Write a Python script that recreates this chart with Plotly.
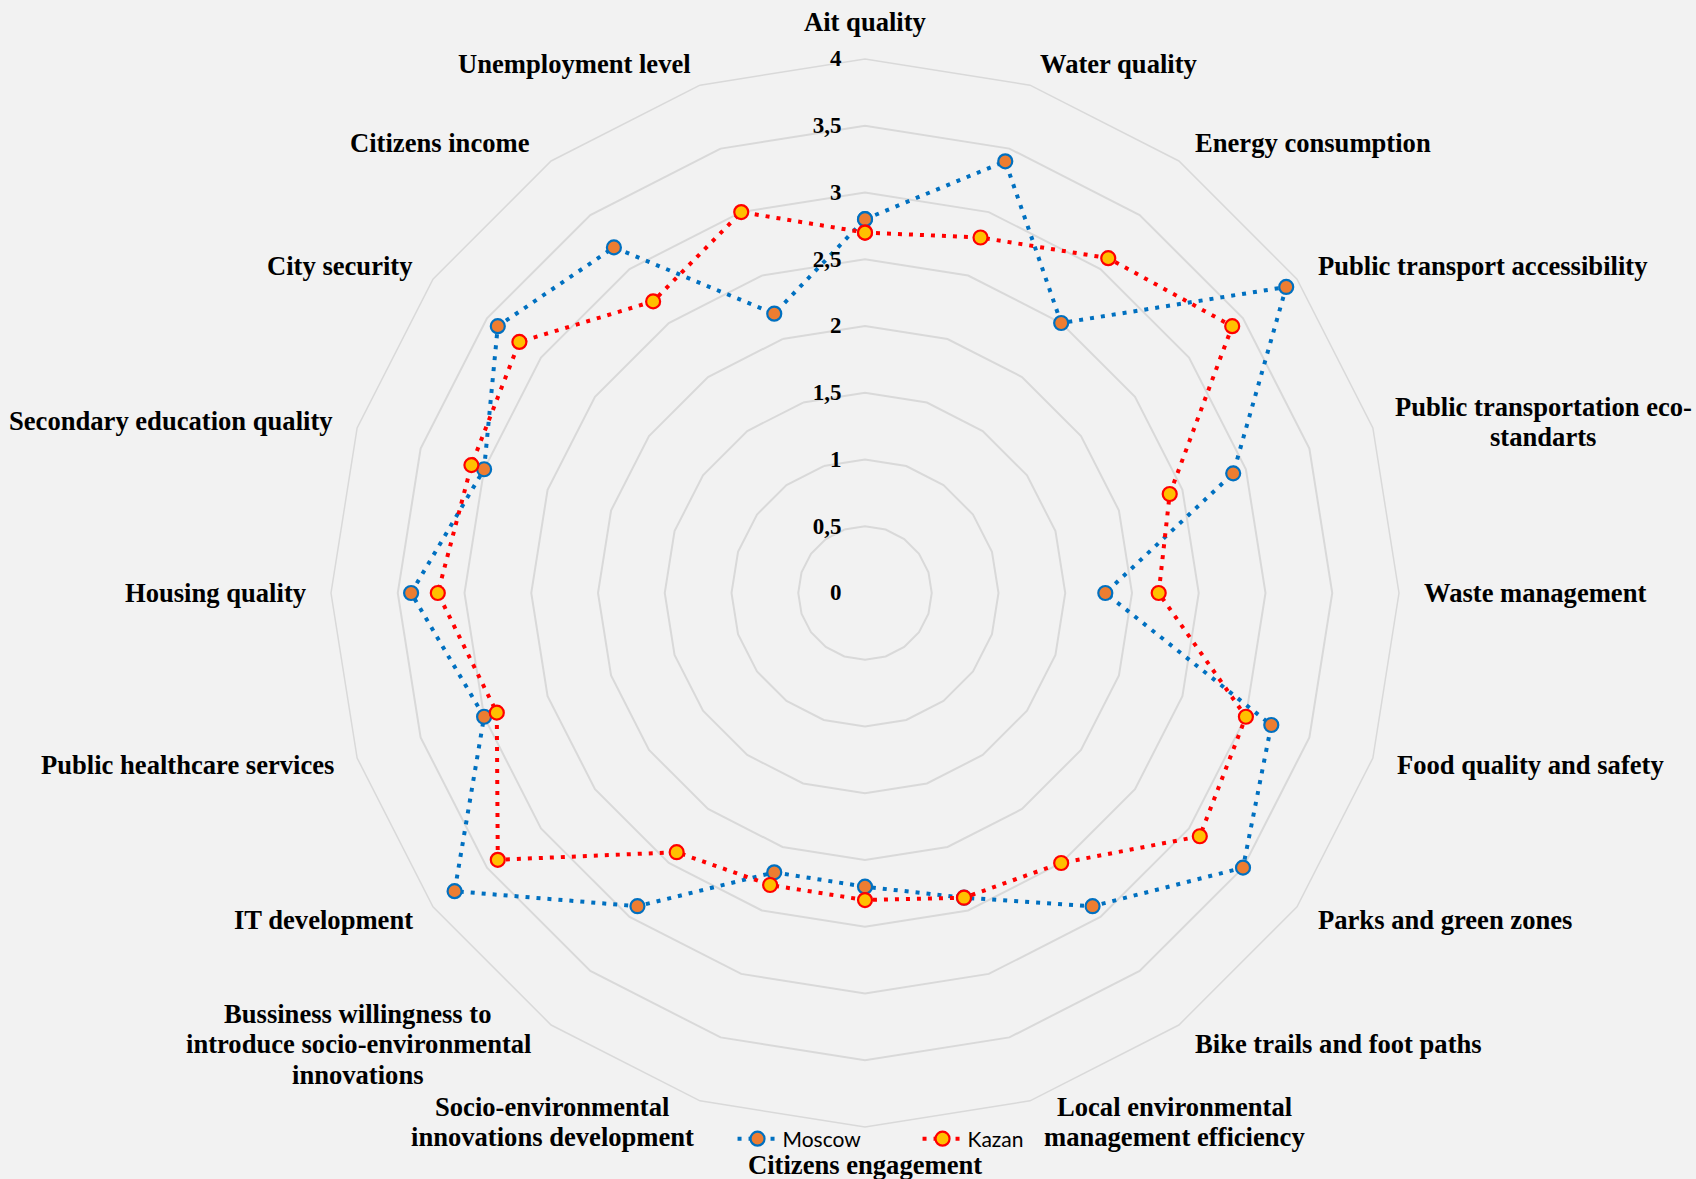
import plotly.graph_objects as go

# Assessment criteria, listed clockwise starting from the top
categories = [
    "Ait quality",
    "Water quality",
    "Energy consumption",
    "Public transport accessibility",
    "Public transportation eco-<br>standarts",
    "Waste management",
    "Food quality and safety",
    "Parks and green zones",
    "Bike trails and foot paths",
    "Local environmental<br>management efficiency",
    "Citizens engagement",
    "Socio-environmental<br>innovations development",
    "Bussiness willingness to<br>introduce socio-environmental<br>innovations",
    "IT development",
    "Public healthcare services",
    "Housing quality",
    "Secondary education quality",
    "City security",
    "Citizens income",
    "Unemployment level",
]

moscow = [2.8, 3.4, 2.5, 3.9, 2.9, 1.8, 3.2, 3.5, 2.9, 2.4,
          2.2, 2.2, 2.9, 3.8, 3.0, 3.4, 3.0, 3.4, 3.2, 2.2]
kazan = [2.7, 2.8, 3.1, 3.4, 2.4, 2.2, 3.0, 3.1, 2.5, 2.4,
         2.3, 2.3, 2.4, 3.4, 2.9, 3.2, 3.1, 3.2, 2.7, 3.0]

radial_ticks = [0, 0.5, 1, 1.5, 2, 2.5, 3, 3.5, 4]

W, H = 1696, 1179
cx, cy, R = 865, 593, 534
GRID = "#D9D9D9"
BG = "#F2F2F2"
SERIF = "Liberation Serif, Times New Roman, serif"
LABEL_SIZE = 26.6
LINE_STEP = 30.5

# Where each category caption sits around the web: anchor x, centre y (px), anchor side
label_pos = [
    (865, 22, "center"),
    (1038, 64, "left"),
    (1193, 143, "left"),
    (1316, 266, "left"),
    (1543, 422, "center"),
    (1422, 593, "left"),
    (1395, 765, "left"),
    (1316, 920, "left"),
    (1193, 1044, "left"),
    (1174, 1122, "center"),
    (865, 1165, "center"),
    (552, 1122, "center"),
    (358, 1044, "center"),
    (415, 920, "right"),
    (336, 765, "right"),
    (309, 593, "right"),
    (335, 421, "right"),
    (415, 266, "right"),
    (532, 143, "right"),
    (693, 64, "right"),
]


def closed(values):
    return values + values[:1]


fig = go.Figure()

fig.add_trace(go.Scatterpolar(
    r=closed(moscow),
    theta=closed(categories),
    name="Moscow",
    mode="lines+markers",
    line=dict(color="#0070C0", width=4, dash="4px,7px"),
    marker=dict(size=14, color="#ED7D31", line=dict(color="#0070C0", width=2.2)),
))

fig.add_trace(go.Scatterpolar(
    r=closed(kazan),
    theta=closed(categories),
    name="Kazan",
    mode="lines+markers",
    line=dict(color="#FF0000", width=4, dash="4px,7px"),
    marker=dict(size=14, color="#FFC000", line=dict(color="#FF0000", width=2.2)),
))

# Category captions, one line per annotation so the line spacing stays tight
for text, (px, py, side) in zip(categories, label_pos):
    lines = text.split("<br>")
    n = len(lines)
    for k, line in enumerate(lines):
        y = py + (k - (n - 1) / 2) * LINE_STEP
        fig.add_annotation(
            x=px / W, y=1 - y / H, xref="paper", yref="paper",
            text=line, showarrow=False,
            xanchor=side, yanchor="middle",
            font=dict(family=SERIF, size=LABEL_SIZE, color="#000000", weight="bold"),
        )

fig.update_layout(
    width=W,
    height=H,
    margin=dict(l=0, r=0, t=0, b=0),
    paper_bgcolor=BG,
    plot_bgcolor=BG,
    separators=", ",
    showlegend=True,
    legend=dict(
        orientation="h",
        x=0.541,
        xanchor="center",
        y=(H - 1139) / H,
        yanchor="middle",
        bgcolor="rgba(0,0,0,0)",
        font=dict(family="Lato, Calibri, sans-serif", size=21, color="#000000"),
        itemwidth=40,
        entrywidth=130,
        tracegroupgap=0,
    ),
    polar=dict(
        bgcolor=BG,
        gridshape="linear",
        domain=dict(
            x=[(cx - R) / W, (cx + R) / W],
            y=[(H - cy - R) / H, (H - cy + R) / H],
        ),
        radialaxis=dict(
            range=[0, 4],
            tickvals=radial_ticks,
            ticktext=[f"{v:g}".replace(".", ",") for v in radial_ticks],
            angle=90,
            side="counterclockwise",
            tickangle=90,
            showline=False,
            ticks="outside",
            ticklen=15,
            tickcolor="rgba(0,0,0,0)",
            showgrid=True,
            gridcolor=GRID,
            gridwidth=1.5,
            tickfont=dict(family=SERIF, size=23, color="#000000", weight="bold"),
        ),
        angularaxis=dict(
            rotation=90,
            direction="clockwise",
            showgrid=False,
            showline=True,
            linecolor=GRID,
            linewidth=1.5,
            ticks="",
            showticklabels=False,
        ),
    ),
)

fig.write_html("out.html")
